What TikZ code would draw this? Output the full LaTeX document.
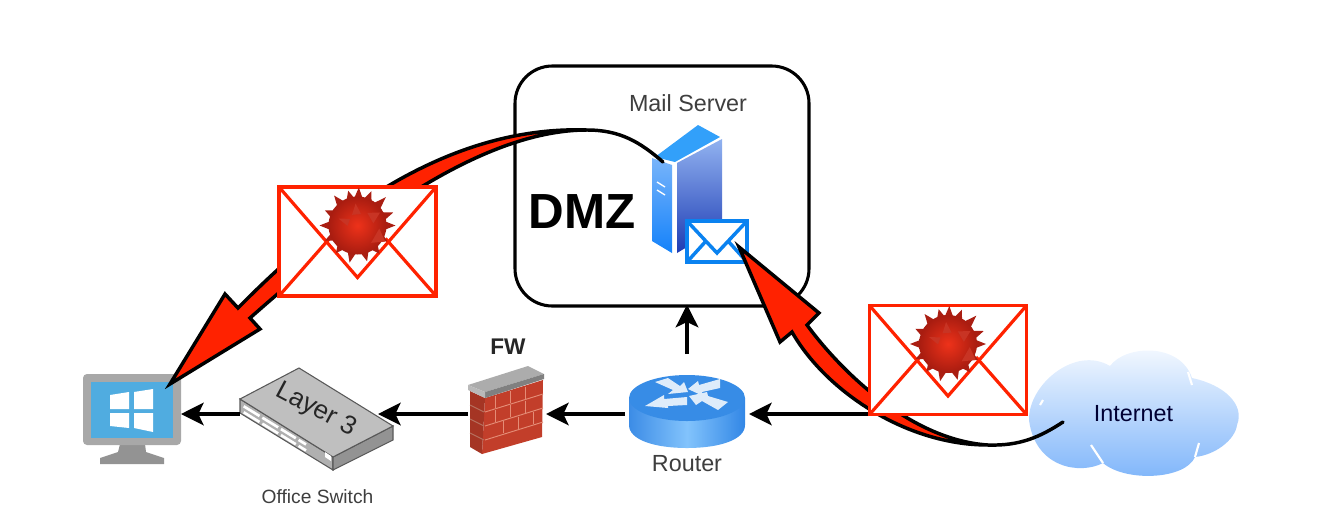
\documentclass[tikz,border=0pt]{standalone}
\usepackage{fontspec}
\setmainfont{Liberation Sans}
\usetikzlibrary{arrows.meta}

\newcommand{\upx}{0.75pt} %one pixel of the reference
\definecolor{mailred}{RGB}{255,34,0}
\definecolor{mailblue}{RGB}{10,130,240}
\definecolor{labelgrey}{RGB}{62,62,62}
\definecolor{screenblue}{RGB}{80,172,224}
\definecolor{bezelgrey}{RGB}{168,168,168}
\definecolor{brick}{RGB}{194,62,42}
\definecolor{mortar}{RGB}{228,140,118}
\definecolor{arrowpale}{RGB}{222,236,250}

\tikzstyle{icon}=[inner sep=0pt,outer sep=0pt]
\tikzstyle{flow}=[-{Stealth[length=17pt,width=17pt,inset=4pt]},line width=2.3pt,black]
\tikzstyle{label}=[inner sep=0pt,text=labelgrey,font=\fontsize{17.5}{20}\selectfont]
\tikzstyle{infected}=[draw=mailred,fill=white,line width=2.6pt,minimum width=157*\upx,minimum height=109*\upx,inner sep=0pt,outer sep=0pt]
\tikzstyle{worm}=[draw=black,fill=mailred,line width=2.6pt,miter limit=10,line join=miter]
\tikzstyle{wormtail}=[draw=black,line width=2.6pt,line cap=round]
\tikzstyle{pane}=[fill=white]
\tikzstyle{porthole}=[white,line width=2pt]

\begin{document}
\begin{tikzpicture}[x=0.75pt,y=-0.75pt]
	\useasboundingbox (0,0) rectangle (1333,522);

	%DMZ
	\node (dmz)[draw,line width=2.3pt,rounded corners=28pt,icon,minimum width=294*\upx,minimum height=240*\upx] at (662,186) {};
	\node (dmzname)[inner sep=0pt,font=\fontsize{37}{40}\selectfont\bfseries] at (582,212) {DMZ};
	\node (mailname)[label] at (688,103) {Mail Server};

	%mail server
	\node (server)[icon,minimum width=70*\upx,minimum height=128*\upx] at (687,189) {};
	\shade[top color={rgb,255:red,145;green,178;blue,240},bottom color={rgb,255:red,30;green,60;blue,180}] (677,163) -- (722,139) -- (722,226) -- (677,253) -- cycle;
	\shade[top color={rgb,255:red,120;green,180;blue,250},bottom color={rgb,255:red,20;green,130;blue,250}] (652,158) -- (672,165) -- (672,253) -- (652,241) -- cycle;
	\fill[color={rgb,255:red,50;green,160;blue,250}] (655,157) -- (698,125) -- (720,137) -- (675,162) -- cycle;
	\draw[white,line width=1pt] (657,182) -- (665,187) (657,190) -- (665,195);
	\node (mailicon)[draw=mailblue,fill=white,line width=2.6pt,icon,minimum width=60*\upx,minimum height=41*\upx] at (717,241.5) {};
	\draw[mailblue,line width=2.6pt] (mailicon.north west) -- (717,253) -- (mailicon.north east);
	\draw[mailblue,line width=2.6pt] (mailicon.south west) -- (706,241) (mailicon.south east) -- (728,241);

	%computer
	\node (pc)[icon,minimum width=98*\upx,minimum height=100*\upx] at (132,414) {};
	\fill[color=gray!85] (120,444) -- (145,444) -- (146,452) -- (164,458) -- (164,464) -- (100,464) -- (100,458) -- (118,452) -- cycle;
	\fill[bezelgrey,rounded corners=3pt] (83,374) rectangle (181,445);
	\fill[screenblue] (91,382) rectangle (173,438);
	\fill[pane] (110,395) -- (129,392) -- (129,409) -- (110,409) -- cycle;
	\fill[pane] (134,392) -- (153,389) -- (153,409) -- (134,409) -- cycle;
	\fill[pane] (110,413) -- (129,413) -- (129,428) -- (110,426) -- cycle;
	\fill[pane] (134,413) -- (153,413) -- (153,432) -- (134,428) -- cycle;

	%switch
	\node (switch)[icon,minimum width=138*\upx,minimum height=102*\upx] at (309,414) {};
	\draw[fill=gray!62,draw=gray!70!black,line width=.8pt] (240,399) -- (240,413) -- (333,470) -- (333,457) -- cycle;
	\draw[fill=gray!85,draw=gray!70!black,line width=.8pt] (333,457) -- (333,470) -- (393,440) -- (393,426) -- cycle;
	\draw[fill=gray!50,draw=gray!70!black,line width=.8pt] (240,399) -- (299,368) -- (393,426) -- (333,457) -- cycle;
	\foreach \tA/\tB in {0.04/0.21,0.24/0.41,0.44/0.60,0.63/0.71}{
		\foreach \rowy in {404,410}{
			\draw[porthole] ({240+93*\tA},{\rowy+57*\tA}) -- ({240+93*\tB},{\rowy+57*\tB});
		}
	}
	\fill[white] (325,452) -- (331,456) -- (331,461) -- (325,457) -- cycle;
	\node (layer)[inner sep=0pt,rotate=-28,text=black!85,font=\fontsize{19.5}{20}\selectfont] at (316,410) {Layer 3};
	\node (switchname)[label,font=\fontsize{14.4}{16}\selectfont] at (317.5,497) {Office Switch};

	\node (fw)[icon,minimum width=78*\upx,minimum height=92*\upx] at (507,414) {};
	\node (router)[icon,minimum width=124*\upx,minimum height=120*\upx] at (687,414) {};

	%internet
	\shade[top color={rgb,255:red,248;green,251;blue,255},bottom color={rgb,255:red,125;green,180;blue,250}] (1029,420) .. controls (1028,385) and (1075,345) .. (1110,366) .. controls (1125,345) and (1180,342) .. (1192,378) .. controls (1225,385) and (1245,405) .. (1237,425) .. controls (1235,440) and (1215,455) .. (1195,457) .. controls (1185,480) and (1125,482) .. (1103,463) .. controls (1080,475) and (1035,468) .. (1029,420) -- cycle;
	\draw[white,line width=1.6pt] (1091,445) -- (1103,463) (1195,457) -- (1199,443) (1040,405) -- (1043,400) (1192,385) -- (1188,372);
	\node (internet)[icon,minimum width=207*\upx,minimum height=120*\upx,text=black!80!blue,font=\fontsize{17.5}{20}\selectfont] at (1133.5,414) {Internet};

	%plain links
	\draw[flow,shorten <=4pt] (internet.west) -- (router.east);
	\draw[flow] (router.west) -- (fw.east);
	\draw[flow] (fw.west) -- (switch.east);
	\draw[flow] (switch.west) -- (pc.east);
	\draw[flow,shorten >=-1pt] (router.north) -- (router.north |- dmz.south);

	%firewall
	\fill[brick] (485,398) -- (543,380) -- (542,437) -- (482,454) -- cycle;
	\fill[brick!85!black] (470,391) -- (485,398) -- (482,454) -- (470,447) -- cycle;
	\foreach \nr in {1,...,3}{
		\draw[mortar,line width=.7pt] (485,{398+\nr*14}) -- (543,{380+\nr*14});
		\draw[mortar!80!black,line width=.7pt] (470,{391+\nr*14}) -- (484,{398+\nr*14});
	}
	\foreach \nr/\off in {0/10,1/25,2/40,3/10,4/25,5/40,6/18,7/33,8/48}{
		\pgfmathsetmacro{\row}{int(\nr/3)}
		\draw[mortar,line width=.7pt] ({485+\off},{398+\row*14-\off*0.31+1}) -- ({485+\off},{398+\row*14-\off*0.31+13});
	}
	\fill[color=gray!65] (468,385) -- (528,366) -- (544,374) -- (485,392) -- cycle;
	\fill[color=gray] (485,392) -- (544,374) -- (544,379) -- (485,398) -- cycle;
	\fill[color=gray!55] (468,385) -- (485,392) -- (485,398) -- (468,390) -- cycle;
	\node (fwname)[label,text=black!85,font=\fontsize{17}{20}\selectfont\bfseries] at (508,347) {FW};

	%router
	\shade[left color={rgb,255:red,60;green,140;blue,230},right color={rgb,255:red,50;green,135;blue,230},middle color={rgb,255:red,130;green,195;blue,252}] (629,398) -- (629,425) .. controls (629,440) and (655,448) .. (687,448) .. controls (719,448) and (745,440) .. (745,425) -- (745,398) -- cycle;
	\fill[color={rgb,255:red,55;green,140;blue,230}] (687,398) ellipse [x radius=58,y radius=23];
	\fill[arrowpale] (655,382) -- (668,378) -- (680,386) -- (684,382) -- (688,392) -- (668,394) -- (673,390) -- cycle;
	\fill[arrowpale] (645,406) -- (664,395) -- (664,399) -- (687,397) -- (687,405) -- (668,406) -- (668,408) -- cycle;
	\fill[arrowpale] (688,389) -- (698,381) -- (699,385) -- (720,379) -- (720,388) -- (702,392) -- (703,396) -- cycle;
	\fill[arrowpale] (689,396) -- (707,392) -- (708,396) -- (728,402) -- (718,410) -- (702,401) -- (696,405) -- cycle;
	\node (routername)[label] at (687,464) {Router};

	%worm paths
	\coordinate (pctip) at (170,384);
	\coordinate (servertail) at (663,162);
	\coordinate (mailtip) at (739,247);
	\coordinate (internettail) at (1063,422);
	\draw[worm] (pctip) -- (225,294) -- (238,308) .. controls (320,225) and (440,125) .. (587,130) .. controls (480,130) and (355,225) .. (250,318) -- (260,329) -- cycle;
	\draw[wormtail] (587,130) .. controls (620,130) and (640,142) .. (servertail);
	\draw[worm] (mailtip) -- (819,313) -- (807,325) .. controls (840,370) and (910,440) .. (988,445) .. controls (905,445) and (825,390) .. (792,332) -- (780,342) -- cycle;
	\draw[wormtail] (988,445) .. controls (1020,446) and (1040,437) .. (internettail);

	%infected mails
	\foreach \nm/\ex/\ey in {mailA/357.5/241.5,mailB/948/360}{
		\node (\nm)[infected] at (\ex,\ey) {};
		\begin{scope}[shift={(\nm.center)}]
			\draw[mailred,line width=2.4pt] (\nm.north west) -- (0,36) -- (\nm.north east);
			\draw[mailred,line width=2.4pt] (\nm.south west) -- (-28,-3);
			\draw[mailred,line width=2.4pt] (\nm.south east) -- (28,-3);
			\begin{scope}[shift={(0,-16)}]
				\foreach \ang/\rad in {0/38,28/34,52/36,75/37,102/38,128/35,155/36,180/38,205/36,232/38,255/36,272/38,292/37,315/40,340/38}{
					\fill[color={rgb,255:red,170;green,30;blue,18}] ({\ang-14}:24) -- (\ang:\rad) -- ({\ang+14}:24) -- cycle;
				}
				\shade[inner color={rgb,255:red,238;green,50;blue,26},outer color={rgb,255:red,168;green,28;blue,16}] (0,0) circle [radius=29];
				\foreach \ang/\rad in {265/22,30/32,200/20,330/26}{
					\fill[color={rgb,255:red,200;green,52;blue,36}] ({\ang-22}:{\rad-10}) -- (\ang:\rad) -- ({\ang+22}:{\rad-10}) -- cycle;
				}
			\end{scope}
		\end{scope}
	}
\end{tikzpicture}
\end{document}
